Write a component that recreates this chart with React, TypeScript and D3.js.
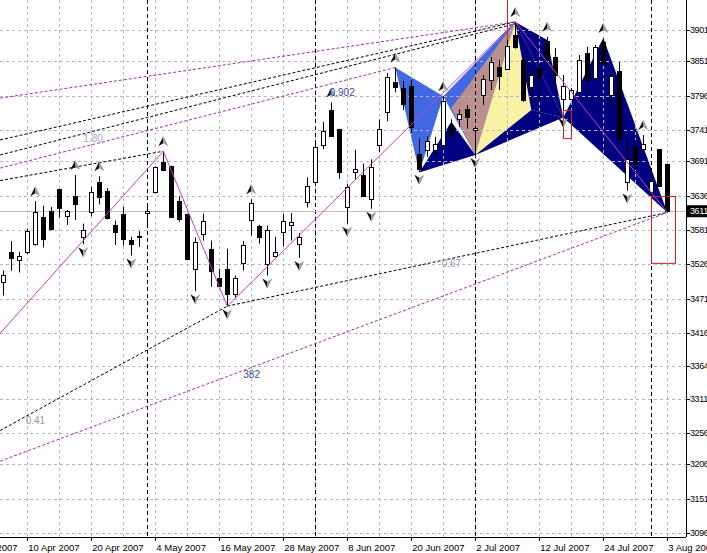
import * as d3 from "d3";

// OHLC, one entry per bar
const opens = [3498, 3545, 3533, 3545, 3558, 3601, 3612, 3646, 3604, 3636, 3569, 3609, 3657, 3644, 3589, 3606, 3565, 3569, 3608, 3641,
  3689, 3683, 3628, 3606, 3519, 3575, 3550, 3504, 3519, 3478, 3528, 3597, 3588, 3526, 3540, 3577, 3589, 3559, 3626, 3658,
  3717, 3773, 3742, 3618, 3674, 3669, 3630, 3717, 3770, 3818, 3808, 3811, 3702, 3709, 3709, 3717, 3749, 3758, 3774, 3741,
  3797, 3821, 3841, 3838, 3893, 3853, 3810, 3840, 3884, 3858, 3790, 3790, 3802, 3864, 3824, 3881, 3797, 3836, 3658, 3714,
  3710, 3642, 3710, 3686];
const highs = [3516, 3563, 3546, 3583, 3627, 3620, 3618, 3647, 3613, 3669, 3591, 3650, 3667, 3648, 3596, 3618, 3570, 3579, 3618, 3683,
  3707, 3684, 3635, 3607, 3569, 3607, 3564, 3519, 3551, 3508, 3563, 3630, 3589, 3588, 3570, 3607, 3608, 3576, 3665, 3725,
  3754, 3785, 3743, 3655, 3709, 3687, 3694, 3758, 3832, 3841, 3819, 3822, 3727, 3731, 3730, 3795, 3758, 3774, 3781, 3746,
  3829, 3858, 3853, 3885, 3914, 3858, 3840, 3845, 3890, 3872, 3829, 3808, 3861, 3874, 3877, 3888, 3832, 3850, 3725, 3725,
  3733, 3663, 3710, 3687];
const lows = [3476, 3516, 3513, 3542, 3556, 3553, 3580, 3601, 3589, 3597, 3558, 3603, 3622, 3598, 3557, 3556, 3540, 3554, 3589, 3640,
  3675, 3600, 3594, 3533, 3483, 3564, 3490, 3489, 3459, 3473, 3516, 3572, 3559, 3508, 3537, 3555, 3564, 3536, 3617, 3657,
  3710, 3731, 3663, 3591, 3662, 3634, 3615, 3706, 3755, 3801, 3773, 3736, 3674, 3698, 3698, 3714, 3730, 3746, 3743, 3701,
  3781, 3805, 3805, 3837, 3871, 3786, 3783, 3786, 3840, 3807, 3765, 3789, 3801, 3818, 3821, 3845, 3773, 3725, 3644, 3677,
  3706, 3634, 3651, 3609];
const closes = [3509, 3536, 3540, 3579, 3609, 3566, 3582, 3616, 3611, 3623, 3581, 3641, 3633, 3600, 3578, 3567, 3559, 3572, 3611, 3682,
  3677, 3602, 3598, 3535, 3562, 3596, 3515, 3491, 3479, 3504, 3557, 3624, 3570, 3581, 3545, 3596, 3594, 3569, 3652, 3713,
  3740, 3732, 3673, 3649, 3678, 3636, 3681, 3742, 3826, 3809, 3783, 3745, 3678, 3724, 3718, 3787, 3733, 3766, 3761, 3744,
  3822, 3849, 3828, 3875, 3874, 3789, 3829, 3826, 3853, 3829, 3811, 3805, 3853, 3821, 3874, 3848, 3827, 3727, 3695, 3687,
  3719, 3659, 3652, 3611];

const priceTicks = [3901, 3851, 3796, 3741, 3691, 3636, 3581, 3526, 3471, 3416, 3364, 3311, 3256, 3206, 3151, 3096];
const dateIdx = [-5, 3, 11, 19, 27, 35, 43, 51, 59, 67, 75, 83];
const dateLabels = ["27 Mar 2007", "10 Apr 2007", "20 Apr 2007", "4 May 2007", "16 May 2007", "28 May 2007",
  "8 Jun 2007", "20 Jun 2007", "2 Jul 2007", "12 Jul 2007", "24 Jul 2007", "3 Aug 2007"];
const separatorIdx = [18, 39, 59, 81];
const lastPrice = 3611;

// zigzag swing points
const zigIdx = [-1, 20, 28, 64, 83];
const zigPrice = [3407, 3707, 3459, 3914, 3609];

// fractal arrows
const upMarks = [4, 9, 12, 20, 31, 41, 49, 55, 64, 68, 75, 80];
const downMarks = [10, 16, 24, 28, 33, 37, 43, 46, 52, 59, 70, 78];

// dashed trend lines [idx1, price1, idx2, price2]
const purpleLines = [
  [-0.4, 3792, 64, 3914],
  [-0.4, 3680, 49, 3841],
  [-0.4, 3211, 83, 3609],
];
const blackLines = [
  [-0.4, 3725, 64, 3914],
  [-0.4, 3701, 64, 3911],
  [-0.4, 3660, 20, 3707],
  [-0.4, 3260, 28, 3459],
  [28, 3459, 83, 3609],
];

// pattern triangles, vertices as [idx, price]
const triangles: { pts: number[][]; color: string }[] = [
  { pts: [[49, 3841], [52, 3673], [55, 3795]], color: "#4169e1" },
  { pts: [[55, 3795], [64, 3914], [59, 3701]], color: "#4169e1" },
  { pts: [[56, 3776], [64, 3914], [59, 3701]], color: "#bc8f8f" },
  { pts: [[52, 3673], [56, 3754], [59, 3701]], color: "#000080" },
  { pts: [[59, 3701], [64, 3914], [70, 3761]], color: "#faf3a5" },
  { pts: [[64, 3914], [66, 3773], [70, 3761]], color: "#000080" },
  { pts: [[64, 3914], [68, 3885], [70, 3761]], color: "#000080" },
  { pts: [[59, 3701], [66, 3773], [70, 3761]], color: "#000080" },
  { pts: [[70, 3761], [75, 3888], [83, 3609]], color: "#000080" },
];

// red boxes [idx1, price1, idx2, price2]
const redBoxes = [
  [70, 3773, 71, 3728],
  [81, 3636, 84, 3529],
];

const fibTexts = ["1.80", "0.902", "0.67", "382", "0.41"];
const fibIdx = [10, 40.8, 54.8, 30, 2.8];
const fibPrice = [3722, 3795, 3522, 3344, 3270];
const fibColors = ["#a4acc2", "#3848a8", "#8c9ab0", "#3848a0", "#8c9aa8"];

export default function App() {
  const W = 707, H = 553;
  const plotR = 686, plotB = 537;
  const x = d3.scaleLinear().domain([0, 83]).range([3.3, 667.3]);
  const y = d3.scaleLinear().domain([3096, 3901]).range([533, 30]);
  const gridIdx = d3.range(3, 84, 4);
  const px = (i: number) => Math.round(x(i)) + 0.5;

  const zig = d3.line<number>().x((d, i) => x(zigIdx[i])).y((d) => y(d))(zigPrice) || "";

  const up = "M0,-5L-5,5L0,2Z";
  const upR = "M0,-5L0,2L5,5Z";
  const dn = "M0,5L-5,-5L0,-2Z";
  const dnR = "M0,5L0,-2L5,-5Z";

  return (
    <svg width={W} height={H} style={{ position: "absolute", left: 0, top: 0, background: "#fff" }}
      fontFamily='"Liberation Sans", Arial, sans-serif'>
      <defs>
        <clipPath id="plot"><rect x={0} y={0} width={plotR} height={plotB} /></clipPath>
      </defs>
      <rect width={W} height={H} fill="#fff" />
      <g clipPath="url(#plot)">
        {triangles.map((t, i) => (
          <polygon key={i} points={t.pts.map((p) => `${x(p[0])},${y(p[1])}`).join(" ")} fill={t.color} />
        ))}
        {priceTicks.map((p) => (
          <line key={p} x1={0} x2={plotR} y1={Math.round(y(p)) + 0.5} y2={Math.round(y(p)) + 0.5}
            stroke="#b8b8b8" strokeDasharray="3,3" />
        ))}
        {gridIdx.map((i) => (
          <line key={i} x1={px(i)} x2={px(i)} y1={0} y2={plotB} stroke="#b8b8b8" strokeDasharray="3,3" />
        ))}
        {separatorIdx.map((i) => (
          <line key={i} x1={px(i)} x2={px(i)} y1={0} y2={plotB} stroke="#000" strokeDasharray="4,3" />
        ))}
        <line x1={0} x2={plotR} y1={Math.round(y(lastPrice)) + 0.5} y2={Math.round(y(lastPrice)) + 0.5} stroke="#c0c0c0" />
        <line x1={px(63)} x2={px(63)} y1={0} y2={y(3850)} stroke="#d01c1c" />
        {opens.map((o, i) => {
          const c = closes[i];
          const cx = px(i);
          const top = Math.round(y(Math.max(o, c)));
          const bot = Math.round(y(Math.min(o, c)));
          return (
            <g key={i}>
              <line x1={cx} x2={cx} y1={y(highs[i])} y2={y(lows[i])} stroke="#000" />
              <rect x={cx - 2} y={top + 0.5} width={4} height={Math.max(bot - top, 1)}
                fill={c >= o ? "#fff" : "#000"} stroke="#000" />
            </g>
          );
        })}
        {redBoxes.map((b, i) => (
          <rect key={i} x={px(b[0])} y={Math.round(y(b[1])) + 0.5} width={x(b[2]) - x(b[0])}
            height={y(b[3]) - y(b[1])} fill="none" stroke="#d01c1c" />
        ))}
        {purpleLines.map((l, i) => (
          <line key={i} x1={x(l[0])} y1={y(l[1])} x2={x(l[2])} y2={y(l[3])} stroke="#9b30b0" strokeDasharray="3,2" />
        ))}
        {blackLines.map((l, i) => (
          <line key={i} x1={x(l[0])} y1={y(l[1])} x2={x(l[2])} y2={y(l[3])} stroke="#000" strokeDasharray="3,2" />
        ))}
        <path d={zig} fill="none" stroke="#c83cc8" />
        {upMarks.map((i) => (
          <g key={i} transform={`translate(${x(i)},${y(highs[i]) - 10})`}>
            <path d={up} fill="#111" />
            <path d={upR} fill="#9a9a9a" />
          </g>
        ))}
        {downMarks.map((i) => (
          <g key={i} transform={`translate(${x(i)},${y(lows[i]) + 8})`}>
            <path d={dn} fill="#111" />
            <path d={dnR} fill="#9a9a9a" />
          </g>
        ))}
        {fibTexts.map((t, i) => (
          <text key={i} x={x(fibIdx[i])} y={y(fibPrice[i])} fontSize={10} fill={fibColors[i]}>{t}</text>
        ))}
      </g>

      {/* axes */}
      <line x1={plotR + 0.5} x2={plotR + 0.5} y1={0} y2={plotB} stroke="#000" />
      <line x1={0} x2={plotR} y1={plotB + 0.5} y2={plotB + 0.5} stroke="#000" />
      {priceTicks.map((p) => (
        <g key={p}>
          <line x1={plotR} x2={plotR + 4} y1={Math.round(y(p)) + 0.5} y2={Math.round(y(p)) + 0.5} stroke="#000" />
          <text x={plotR + 4} y={y(p)} dy="0.35em" fontSize={9} letterSpacing={-0.4} fill="#000">{p}</text>
        </g>
      ))}
      <rect x={plotR + 1} y={y(lastPrice) - 6} width={W - plotR} height={12} fill="#000" />
      <text x={plotR + 4} y={y(lastPrice)} dy="0.35em" fontSize={9} letterSpacing={-0.4} fill="#fff">{lastPrice}</text>
      {dateIdx.map((d, i) => (
        <g key={d}>
          <line x1={px(d)} x2={px(d)} y1={plotB} y2={plotB + 4} stroke="#000" />
          <text x={x(d) + 1} y={551} fontSize={9.5} fill="#000">{dateLabels[i]}</text>
        </g>
      ))}
    </svg>
  );
}
